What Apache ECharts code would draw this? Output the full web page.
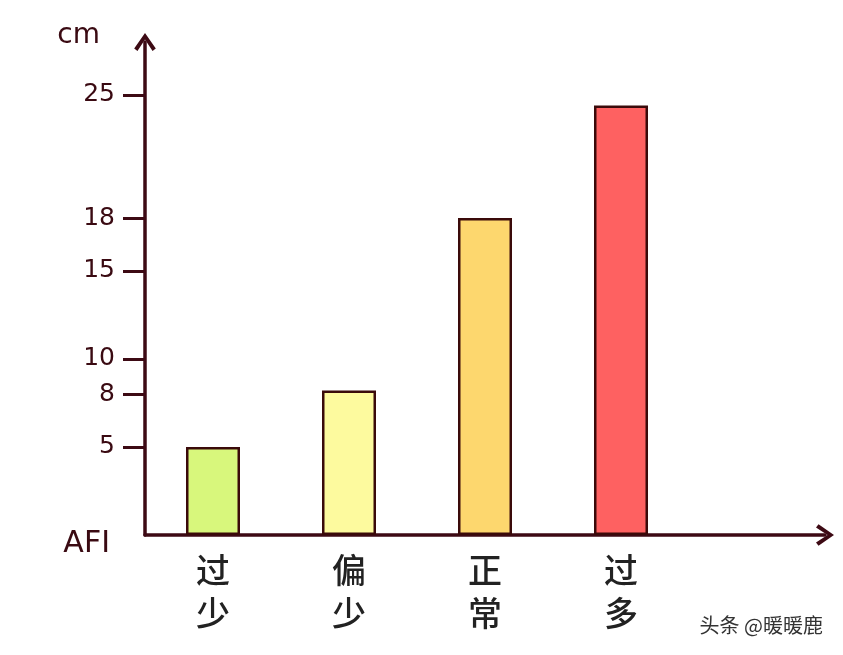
<!DOCTYPE html>
<html>
<head>
<meta charset="utf-8">
<script src="https://cdn.jsdelivr.net/npm/echarts@6/dist/echarts.min.js"></script>
<style>html,body{margin:0;padding:0;background:#fff}#c{width:843px;height:655px}</style>
</head>
<body>
<div id="c"></div>
<script>
var categories = ['过少', '偏少', '正常', '过多', ''];
var values = [5, 8.2, 18, 24.4];
var barColors = ['#d8f77c', '#fdfa9e', '#fdd76e', '#fe6161'];
var yTicks = [5, 8, 10, 15, 18, 25];
var yName = 'cm';
var xName = 'AFI';
var watermark = '头条 @暖暖鹿';

var axisColor = '#3d0a14';
var chevron = 'path://M0,8.6L6,0L12,8.6L10.2,10L6,3.6L1.8,10Z';
var chart = echarts.init(document.getElementById('c'));
chart.setOption({
  backgroundColor: '#ffffff',
  animation: false,
  grid: { left: 145, right: 18, top: 42, bottom: 120 },
  xAxis: {
    type: 'category',
    data: categories,
    name: xName,
    nameLocation: 'start',
    nameGap: 35,
    nameTextStyle: { color: '#3a0a12', fontSize: 30, fontFamily: 'DejaVu Sans', verticalAlign: 'top', padding: [-6, 0, 0, 0] },
    axisLine: { lineStyle: { color: axisColor, width: 3.5 }, symbol: ['none', chevron], symbolSize: [24, 18] },
    axisTick: { show: false },
    axisLabel: {
      color: '#222222', fontSize: 34, fontFamily: 'Noto Sans CJK SC', fontWeight: 500, margin: 14, lineHeight: 43,
      formatter: function (v) { return v.split('').join('\n'); }
    }
  },
  yAxis: {
    type: 'value',
    min: 0,
    max: 28,
    name: yName,
    nameLocation: 'end',
    nameGap: -8,
    nameTextStyle: { color: '#3a0a12', fontSize: 28, fontFamily: 'DejaVu Sans', align: 'right', verticalAlign: 'bottom', padding: [0, 45, 0, 0] },
    splitLine: { show: false },
    axisLine: { show: true, lineStyle: { color: axisColor, width: 3.5 }, symbol: ['none', chevron], symbolSize: [24, 18] },
    axisTick: { show: true, length: 22, lineStyle: { color: axisColor, width: 3 }, customValues: yTicks },
    axisLabel: { color: '#3a0a12', fontSize: 25, fontFamily: 'DejaVu Sans', margin: 30, customValues: yTicks }
  },
  series: [{
    type: 'bar',
    barWidth: 54,
    data: values.map(function (v, i) {
      return { value: v, itemStyle: { color: barColors[i], borderColor: '#3a0a0a', borderWidth: 2.5 } };
    })
  }],
  graphic: [{
    type: 'text',
    right: 20,
    top: 615,
    style: {
      text: watermark, fill: '#333333', fontSize: 20, fontFamily: 'Noto Sans CJK SC',
      textShadowColor: 'rgba(255,255,255,0.9)', textShadowBlur: 2
    }
  }]
});
</script>
</body>
</html>
